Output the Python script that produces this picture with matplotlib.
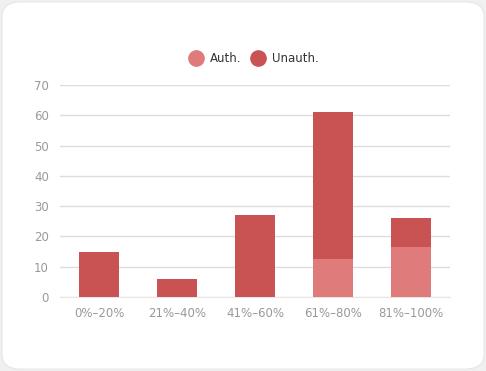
import matplotlib.pyplot as plt
from matplotlib.patches import FancyBboxPatch
from matplotlib.lines import Line2D

# data
categories = ["0%\u201320%", "21%\u201340%", "41%\u201360%", "61%\u201380%", "81%\u2013100%"]
auth = [0, 0, 0, 12.5, 16.5]
unauth = [15, 6, 27, 48.5, 9.5]

auth_color = "#e07b7b"
unauth_color = "#c95353"

fig = plt.figure(figsize=(4.86, 3.71), dpi=100)
fig.patch.set_facecolor("#f0f0f0")

# white card behind everything
card = FancyBboxPatch((0.004, 0.005), 0.992, 0.99,
                      boxstyle="round,pad=0,rounding_size=0.04",
                      transform=fig.transFigure, facecolor="white",
                      edgecolor="#e6e6e6", linewidth=0.8, zorder=-10)
fig.patches.append(card)

ax = fig.add_axes([0.1235, 0.1995, 0.8025, 0.5715])
ax.set_facecolor("none")

x = range(len(categories))
ax.bar(x, auth, width=0.51, color=auth_color, zorder=3)
ax.bar(x, unauth, width=0.51, bottom=auth, color=unauth_color, zorder=3)

ax.set_xlim(-0.5, len(categories) - 0.5)
ax.set_ylim(0, 70)
ax.set_yticks(range(0, 71, 10))
ax.set_xticks(list(x))
ax.set_xticklabels(categories)

ax.grid(axis="y", color="#dcdcdc", linewidth=1, zorder=0)
for s in ["top", "right", "left"]:
    ax.spines[s].set_visible(False)
ax.spines["bottom"].set_color("#e6e6e6")
ax.tick_params(axis="both", length=0, colors="#999999", labelsize=8.5)
ax.tick_params(axis="y", pad=8)
ax.tick_params(axis="x", pad=7)

handles = [Line2D([], [], marker="o", linestyle="none", markersize=11,
                  markerfacecolor=auth_color, markeredgecolor=auth_color),
           Line2D([], [], marker="o", linestyle="none", markersize=11,
                  markerfacecolor=unauth_color, markeredgecolor=unauth_color)]
fig.legend(handles, ["Auth.", "Unauth."], loc="center", bbox_to_anchor=(0.518, 0.843),
           ncol=2, frameon=False, fontsize=8.5, handletextpad=0.2, columnspacing=0.4,
           labelcolor="#333333")

fig.savefig("out.png", dpi=100, facecolor=fig.get_facecolor())
